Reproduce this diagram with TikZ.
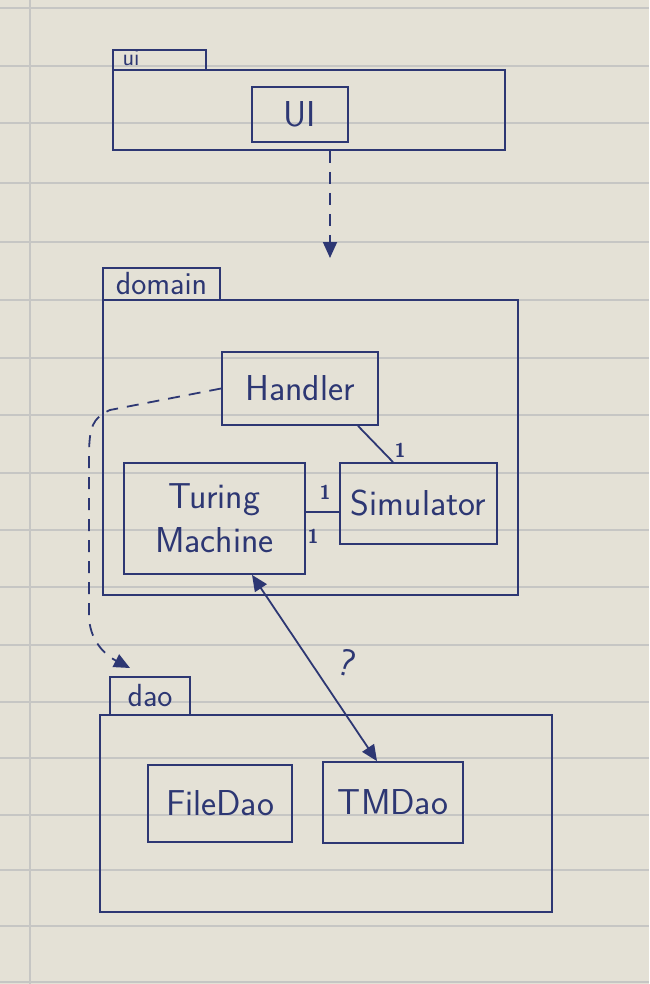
\documentclass[tikz,border=0pt]{standalone}
\usepackage{tikz}
\usetikzlibrary{arrows.meta}
\definecolor{ink}{RGB}{45,55,115}
\definecolor{paper}{RGB}{228,225,214}
\definecolor{papergrid}{RGB}{198,198,196}

\begin{document}
\begin{tikzpicture}[x=1pt,y=-1pt,
    cls/.style={draw=ink,line width=1.8pt,text=ink,inner sep=0pt,align=center,
      font=\sffamily\fontsize{36}{44}\selectfont},
    pkg/.style={draw=ink,line width=1.8pt,text=ink,inner sep=0pt,
      font=\sffamily\fontsize{32}{36}\selectfont},
    mult/.style={text=ink,font=\sffamily\bfseries\fontsize{20}{20}\selectfont},
    dep/.style={draw=ink,line width=1.8pt,dash pattern=on 12pt off 9pt,
      -{Triangle[length=16pt,width=14pt]}},
    assoc/.style={draw=ink,line width=1.8pt}]
        % paper
        \fill[paper] (0,0) rectangle (649,984);
        \useasboundingbox (0,0) rectangle (649,984);
        \foreach \y in {8,66,123,183,242,300,358,415,473,530,587,645,702,758,815,870,926,982}
          \draw[papergrid,line width=1.2pt] (0,\y) -- (649,\y);
        \draw[papergrid,line width=1.5pt] (30,0) -- (30,984);

        % package ui
        \node[pkg,minimum width=93pt,minimum height=20pt] (uitab) at (159.5,60) {};
        \node[text=ink,inner sep=0pt,font=\sffamily\fontsize{24}{24}\selectfont] (uilbl) at (131,58) {ui};
        \node[pkg,minimum width=392pt,minimum height=80pt] (uibody) at (309,110) {};
        \node[cls,minimum width=96pt,minimum height=55pt] (ui) at (300,114.5) {UI};

        % package domain
        \node[pkg,minimum width=117pt,minimum height=32pt] (domaintab) at (161.5,284) {domain};
        \node[pkg,minimum width=415pt,minimum height=295pt] (domainbody) at (310.5,447.5) {};
        \node[cls,minimum width=156pt,minimum height=73pt] (handler) at (300,388.5) {Handler};
        \node[cls,minimum width=181pt,minimum height=111pt] (tm) at (214.5,518.5) {Turing\\Machine};
        \node[cls,minimum width=157pt,minimum height=81pt] (sim) at (418.5,503.5) {Simulator};

        % package dao
        \node[pkg,minimum width=80pt,minimum height=38pt] (daotab) at (150,696) {dao};
        \node[pkg,minimum width=452pt,minimum height=197pt] (daobody) at (326,813.5) {};
        \node[cls,minimum width=144pt,minimum height=77pt] (filedao) at (220,803.5) {FileDao};
        \node[cls,minimum width=140pt,minimum height=81pt] (tmdao) at (393,802.5) {TMDao};

        % dependencies
        \coordinate (uiarr) at (330,258);
        \coordinate (daoarr) at (130,668);
        \draw[dep] (uibody.south -| uiarr) -- (uiarr);
        \draw[dep] (handler.west) -- (110,410) .. controls (92,418) and (90,428) .. (89,450)
          -- (89,615) .. controls (89,640) and (105,655) .. (daoarr);

        % associations
        \draw[assoc] (handler.south -| 358,0) -- (sim.north -| 393,0);
        \draw[assoc] (tm.east |- 0,512) -- (sim.west |- 0,512);
        \draw[assoc,{Triangle[length=16pt,width=14pt]}-{Triangle[length=16pt,width=14pt]}]
          (tm.south -| 252,0) -- (tmdao.north -| 377,0);
        \node[mult] (m1) at (400,450) {1}; % handler-simulator
        \node[mult] (m2) at (325,492) {1}; % simulator side
        \node[mult] (m3) at (313,536) {1}; % machine side
        \node[text=ink,font=\sffamily\fontsize{38}{38}\selectfont,rotate=-15] (qmark) at (347,663) {?};
\end{tikzpicture}
\end{document}
